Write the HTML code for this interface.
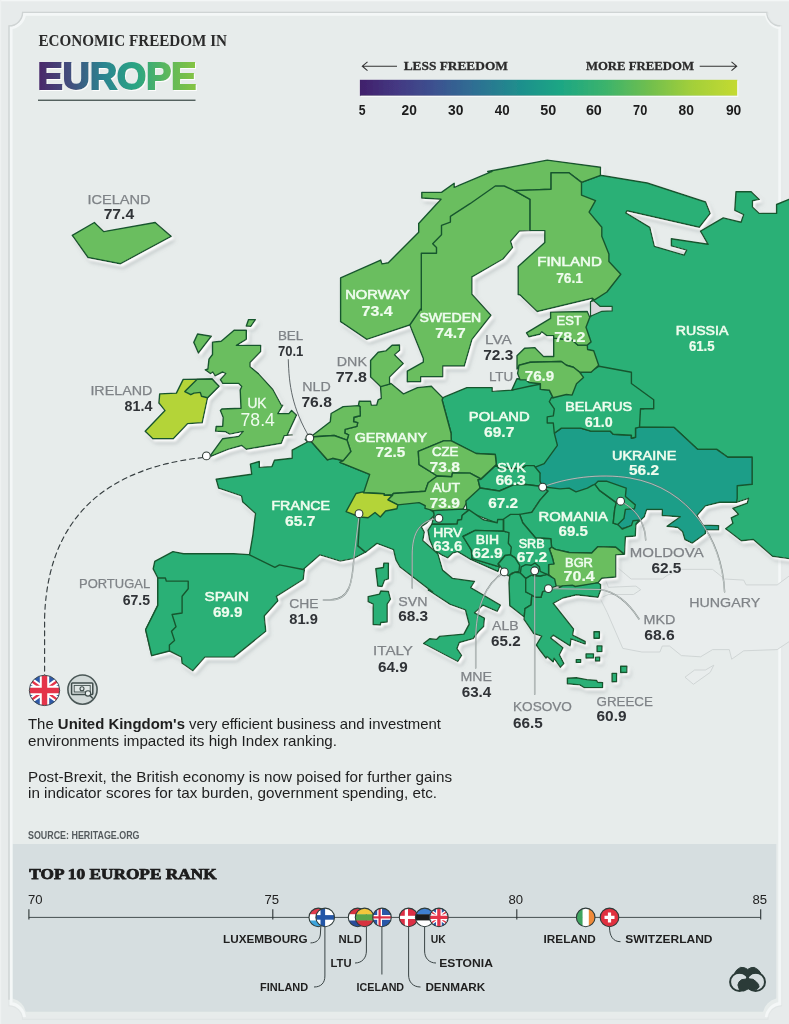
<!DOCTYPE html>
<html><head><meta charset="utf-8"><title>Economic Freedom in Europe</title>
<style>
html,body{margin:0;padding:0;background:#e7ebeb;}
body{width:789px;height:1024px;overflow:hidden;position:relative;font-family:"Liberation Sans",sans-serif;}
svg{position:absolute;left:0;top:0;}
text{font-family:"Liberation Sans",sans-serif;}
.ser{font-family:"Liberation Serif",serif;font-weight:bold;}
.gn{font-size:13.6px;fill:#7f8387;stroke:#7f8387;stroke-width:0.25px;}
.dv{font-size:13.8px;fill:#303337;font-weight:bold;}
.wn{font-size:13.6px;fill:#effcee;stroke:#effcee;stroke-width:0.6px;}
.wv{font-size:13.8px;fill:#effcee;font-weight:bold;stroke:#effcee;stroke-width:0.2px;}
.ukn{font-size:13.8px;fill:#effcee;stroke:#effcee;stroke-width:0.35px;}
.ukv{font-size:18px;fill:#effcee;}
</style></head><body>
<svg width="789" height="1024" viewBox="0 0 789 1024">
<defs>
<filter id="emb" x="-5%" y="-5%" width="110%" height="110%">
<feOffset in="SourceAlpha" dx="1.6" dy="1.8" result="o"/>
<feGaussianBlur in="o" stdDeviation="1.0" result="ob"/>
<feFlood flood-color="#ffffff" flood-opacity="1"/><feComposite in2="ob" operator="in" result="w"/>
<feOffset in="SourceAlpha" dx="3.2" dy="3.6" result="o2"/>
<feGaussianBlur in="o2" stdDeviation="2.2" result="o2b"/>
<feFlood flood-color="#7f8a8d" flood-opacity="0.42"/><feComposite in2="o2b" operator="in" result="s"/>
<feMerge><feMergeNode in="s"/><feMergeNode in="w"/><feMergeNode in="SourceGraphic"/></feMerge>
</filter>
<clipPath id="fcU"><circle cx="44.5" cy="690.4" r="15.2"/></clipPath>
</defs>

<g opacity="0.999">
<defs><filter id="fb" x="-2%" y="-2%" width="104%" height="104%"><feGaussianBlur stdDeviation="0.5"/></filter></defs>
<rect x="0" y="0" width="789" height="1024" fill="#e7ebeb"/>
<rect x="0" y="0" width="789" height="1.3" fill="#f3f6f6"/><rect x="0" y="0" width="1.2" height="1024" fill="#eef1f1"/>
<path d="M22.6 12.3 L766.3 12.3 A13.6 13.6 0 0 0 779.9 25.9 L779.9 1001.8 A13.6 13.6 0 0 0 766.3 1015.4 L22.6 1015.4 A13.6 13.6 0 0 0 9.0 1001.8 L9.0 25.9 A13.6 13.6 0 0 0 22.6 12.3Z" fill="#e7eceb"/>
<path d="M12.6 844 L776.3 844 L776.3 998.58 A17.2 17.2 0 0 0 763.08 1011.8 L25.82 1011.8 A17.2 17.2 0 0 0 12.6 998.58Z" fill="#d6dee0"/>
<path d="M24.38 1017.1 A15.5 15.5 0 0 0 10.9 1003.62 L10.9 27.68 A15.5 15.5 0 0 0 24.38 14.200000000000001 L766.42 14.200000000000001 A15.5 15.5 0 0 0 779.9 27.68 L779.9 1003.62 A15.5 15.5 0 0 0 766.42 1017.1" fill="none" stroke="#f6f9f9" stroke-width="3.2" opacity="0.9" filter="url(#fb)"/>
<path d="M22.6 12.3 L767.9 12.3 A13.6 13.6 0 0 0 781.5 25.9 L781.5 1005.8 A13.6 13.6 0 0 0 767.9 1019.4 L22.6 1019.4 A13.6 13.6 0 0 0 9.0 1005.8 L9.0 25.9 A13.6 13.6 0 0 0 22.6 12.3Z" fill="none" stroke="#cfd4d4" stroke-width="1.3" opacity="0.25" filter="url(#fb)"/>
<path d="M9.0 999.8 L9.0 25.9 A13.6 13.6 0 0 0 22.6 12.3 L766.8 12.3 A13.6 13.6 0 0 0 780.4 25.9" fill="none" stroke="#cfd4d4" stroke-width="1.35" filter="url(#fb)"/>
<defs>
<linearGradient id="eu" x1="0" y1="0" x2="1" y2="0">
<stop offset="0" stop-color="#4a2769"/><stop offset="0.22" stop-color="#41527f"/><stop offset="0.42" stop-color="#2a8590"/>
<stop offset="0.62" stop-color="#2aa583"/><stop offset="0.82" stop-color="#5db85c"/><stop offset="1" stop-color="#86c441"/>
</linearGradient>
<linearGradient id="bar" x1="0" y1="0" x2="1" y2="0">
<stop offset="0" stop-color="#41206b"/><stop offset="0.1" stop-color="#443983"/><stop offset="0.2" stop-color="#3c5290"/><stop offset="0.3" stop-color="#2f6e93"/>
<stop offset="0.42" stop-color="#1f8e8d"/><stop offset="0.53" stop-color="#1da684"/><stop offset="0.65" stop-color="#3bb36c"/>
<stop offset="0.77" stop-color="#72bf4d"/><stop offset="0.88" stop-color="#a3cf3a"/><stop offset="1" stop-color="#c4da31"/>
</linearGradient>
<filter id="ts" x="-5%" y="-20%" width="110%" height="140%">
<feOffset in="SourceAlpha" dx="1" dy="1.2" result="o"/><feGaussianBlur in="o" stdDeviation="0.7" result="ob"/>
<feFlood flood-color="#ffffff" flood-opacity="0.9"/><feComposite in2="ob" operator="in" result="w"/>
<feMerge><feMergeNode in="w"/><feMergeNode in="SourceGraphic"/></feMerge></filter>
</defs>
<text class="ser" x="38.5" y="45.7" font-size="16.6" fill="#2b2b2b" textLength="188.5" lengthAdjust="spacingAndGlyphs">ECONOMIC FREEDOM IN</text>
<text x="37.8" y="89.2" font-size="36.8" font-weight="bold" fill="url(#eu)" stroke="url(#eu)" stroke-width="1.9" stroke-linejoin="miter" filter="url(#ts)" textLength="158.4" lengthAdjust="spacingAndGlyphs">EUROPE</text>
<rect x="38" y="99.6" width="157.5" height="1.3" fill="#44534f"/>
<rect x="359.9" y="79.8" width="377.4" height="16" fill="url(#bar)" filter="url(#ts)"/>
<text class="ser" x="403.7" y="70.3" font-size="13.3" fill="#2b2b2b" stroke="#2b2b2b" stroke-width="0.3" textLength="104.2" lengthAdjust="spacingAndGlyphs">LESS FREEDOM</text>
<text class="ser" x="585.9" y="70.3" font-size="13.3" fill="#2b2b2b" stroke="#2b2b2b" stroke-width="0.3" textLength="108.1" lengthAdjust="spacingAndGlyphs">MORE FREEDOM</text>
<path d="M397 66.2 L362.5 66.2 M367.5 61.8 L362.3 66.2 L367.5 70.6" fill="none" stroke="#333" stroke-width="1.1"/>
<path d="M699.7 66.2 L736.5 66.2 M731.5 61.8 L736.7 66.2 L731.5 70.6" fill="none" stroke="#333" stroke-width="1.1"/>
<text x="358.8" y="115.2" font-size="14.3" font-weight="bold" fill="#1c1c1c" textLength="6.8" lengthAdjust="spacingAndGlyphs">5</text>
<text x="401.5" y="115.2" font-size="14.3" font-weight="bold" fill="#1c1c1c" textLength="15.3" lengthAdjust="spacingAndGlyphs">20</text>
<text x="448.1" y="115.2" font-size="14.3" font-weight="bold" fill="#1c1c1c" textLength="15.4" lengthAdjust="spacingAndGlyphs">30</text>
<text x="494.8" y="115.2" font-size="14.3" font-weight="bold" fill="#1c1c1c" textLength="14.8" lengthAdjust="spacingAndGlyphs">40</text>
<text x="540.3" y="115.2" font-size="14.3" font-weight="bold" fill="#1c1c1c" textLength="16.0" lengthAdjust="spacingAndGlyphs">50</text>
<text x="585.9" y="115.2" font-size="14.3" font-weight="bold" fill="#1c1c1c" textLength="15.9" lengthAdjust="spacingAndGlyphs">60</text>
<text x="633.1" y="115.2" font-size="14.3" font-weight="bold" fill="#1c1c1c" textLength="14.2" lengthAdjust="spacingAndGlyphs">70</text>
<text x="678.6" y="115.2" font-size="14.3" font-weight="bold" fill="#1c1c1c" textLength="15.4" lengthAdjust="spacingAndGlyphs">80</text>
<text x="725.9" y="115.2" font-size="14.3" font-weight="bold" fill="#1c1c1c" textLength="15.4" lengthAdjust="spacingAndGlyphs">90</text>
<g id="gray" fill="#e9eded" stroke="#cdd2d3" stroke-width="0.9" stroke-linejoin="round">
<path d="M616.8 567 L631.1 579 L662.3 579 L667.1 575.4 L681.4 569.4 L712.6 569.4 L724.6 579 L743.7 580.1 L746.1 584.9 L777.2 584.9 L791.6 574.2 L791.6 640 L777.2 649.6 L743.7 650.8 L731.7 659.2 L729.3 649.6 L712.6 649.6 L700.6 656.8 L681.4 655.6 L669.5 646 L662.3 646 L659.9 652 L641.9 652 L622.8 648.4 L607.2 612.5 L600 598.1 L608.4 594.5 L633.5 594.5 L640.7 589.7 L635.9 586.1 L608.4 587.3 L604.8 577.8 L618 576.6Z"/>
<path d="M685 677.2 L694.6 670 L705.4 670 L713.8 665.2 L710.2 672.4 L693.4 684.3Z"/>
</g>
<g id="map" filter="url(#emb)" stroke-linejoin="round">
<path d="M581.5 182.4 L600.5 175.3 L647.3 183 L705.6 202 L710.2 213.4 L699.3 227.3 L627 210.8 L625.8 212.9 L649.8 227.3 L654.4 246.3 L684.1 255.2 L686.6 250.1 L671.4 245.8 L671.4 238.7 L708.1 244.3 L700.5 231.1 L723.3 217.9 L741.1 222.2 L743.6 214.6 L734.8 210.3 L736 191.8 L751.2 191.8 L759.3 199.4 L752.5 200.7 L752.5 207 L759.3 213.4 L776.6 213.4 L776.6 204.5 L789 199.4 L795 199 L795 560 L789 558.6 L772.5 556.2 L753.3 539.5 L741.3 540.7 L725.7 528.7 L732.9 523.2 L731.3 517.9 L738.4 514.3 L732.9 508.3 L747.3 503.1 L748.5 498.3 L736.5 502.3 L729.3 499.9 L729.3 482.6 L752.1 484.2 L752.1 457.3 L727.8 457.3 L716.7 449.4 L697.8 449.4 L674.1 427.4 L639.4 427.4 L631.4 427.1 L631.4 408.8 L643.6 408.8 L643.6 399.7 L623.3 383.5 L623.3 372.3 L590.9 368.3 L591.1 350.8 L586 349.5 L584.8 345.1 L586 341.9 L582.2 327.3 L589.2 317.2 L591.1 315.9 L591.1 302.6 L593.7 297.8 L591.7 300.1 L601.8 292 L614.5 274.2 L604.3 261.5 L604.3 253.9 L596.7 236.2 L596.7 227.3 L584.1 212.1 L589.1 200.7 L576.5 195.1Z" fill="#2bb076" stroke="#17572f" stroke-width="1.4"/>
<path d="M340.6 310.1 L340.6 277.9 L380.7 260.1 L382 263.9 L388.3 262.7 L418.7 232.2 L418.7 223.4 L441 199.3 L421.8 198 L421.8 192.4 L441.5 192.4 L454.2 183.3 L454.2 187.4 L492.2 171.4 L487.7 171.5 L547.3 160.1 L600.5 167.2 L600.5 175.3 L581.5 182.4 L568.9 172.8 L551.1 172.8 L551.1 189.3 L514.4 190.6 L507.4 195.5 L472 236 L451.7 310.1 L436.5 309 L409.8 325 L366.8 339.4 L340.6 321.7Z" fill="#6bbe5e" stroke="#17572f" stroke-width="1.4"/>
<path d="M514.4 190.6 L504.2 186 L495.3 186 L470 203.7 L450.4 216.3 L450.4 222.1 L441.5 225.4 L441.5 234.8 L432.7 243.7 L436.5 247.5 L436.5 253.3 L421.3 253.3 L421.3 310.1 L420.7 309 L409.8 325 L423.3 358.4 L423.3 362.2 L407.3 371.1 L407.3 381.8 L420.7 381.8 L420.7 376.7 L442.8 376.7 L442.8 366 L464.3 366 L472 339.4 L491 315.3 L472 294.3 L472 276.6 L472.5 276.7 L503 259 L512.6 247.6 L510.6 241.3 L519.4 231.1 L530.1 230.6 L530.1 199.4Z" fill="#6bbe5e" stroke="#17572f" stroke-width="1.4"/>
<path d="M514.4 190.6 L551.1 189.3 L551.1 172.8 L568.9 172.8 L581.5 182.4 L581.5 195.1 L595.5 200.7 L589.1 212.1 L601.8 227.3 L601.8 236.2 L608.9 253.9 L608.9 261.5 L620.8 274.2 L606.9 292 L594.2 300.1 L592.4 298.2 L537.2 311.5 L520.1 295 L518.2 294.5 L518.2 266.6 L544.8 242.5 L544.8 230.6 L530.1 230.6 L530.1 199.4Z" fill="#6bbe5e" stroke="#17572f" stroke-width="1.4"/>
<path d="M538.1 439.2 L554.3 433.2 L561.4 428.1 L580.7 428.1 L590.9 431.1 L610.1 431.1 L613.2 434.2 L631.4 435.2 L631.4 438.2 L635.5 437.2 L635.5 427.7 L639.5 427.1 L674.1 427.4 L697.8 449.4 L716.7 449.4 L727.8 457.3 L752.1 457.3 L752.1 484.2 L737.2 485.7 L737.2 498.4 L736.5 502.3 L719.8 502.3 L705.4 505.9 L697 515.5 L703 525.1 L718.6 525.6 L718.6 529.9 L705.4 529.9 L705.4 533.5 L692.2 543.1 L685 539.5 L682.6 531.8 L677.8 527.5 L667.1 526.3 L680.2 516.7 L662.3 515.5 L662.3 509.5 L646.7 509.5 L644.3 516.7 L635.9 524.6 L619.2 529.4 L612 521.5 L603.1 504.7 L587.3 492 L558.9 498.4 L530.5 495.2 L527.4 463.6Z" fill="#1c9e88" stroke="#17572f" stroke-width="1.4"/>
<path d="M599 366.2 L631.4 372.3 L631.4 383.5 L653.7 399.7 L653.7 408.8 L640.5 408.8 L639.5 427.1 L635.5 428.1 L635.5 437.2 L631.4 438.2 L631.4 435.2 L613.2 434.2 L610.1 431.1 L590.9 431.1 L580.7 428.1 L561.4 428.1 L554.3 433.2 L542.2 435.2 L542.2 396.7 L551.3 393.6 L569.6 392.6 L570.6 388.5 L580.7 376.4 L580.7 371.9 L593.9 369.3Z" fill="#2bb076" stroke="#17572f" stroke-width="1.4"/>
<path d="M442.8 397.7 L466.9 387.6 L492.2 387.6 L492.2 391.4 L512.5 390.1 L511.8 390.1 L529.6 384.3 L529 382.5 L540.4 383.7 L540.4 389.4 L549.3 390.1 L553.1 397.7 L551.3 397.7 L549.3 401.7 L554.3 408.8 L553.3 415.9 L547.2 416.9 L547.2 423 L553.3 423 L554.3 433.2 L557.4 445.3 L544.2 463.6 L534.1 467.6 L540 473.1 L533.9 465.6 L525.8 465.6 L521.7 468.7 L498.4 467.7 L496.3 465 L495.3 454.5 L476.1 453.5 L451.3 440.9 L451 433 L442.1 400Z" fill="#2bb076" stroke="#17572f" stroke-width="1.4"/>
<path d="M511.8 390.1 L516.9 378.7 L529.6 379.2 L539.7 384.3 L529.6 386.3Z" fill="#2bb076" stroke="#17572f" stroke-width="1.4"/>
<path d="M553.7 338.1 L572.1 340 L577.8 345.1 L587.3 345.1 L587.6 349.5 L593.7 350.8 L598.7 365.3 L591.1 372.3 L579.7 372.3 L573.4 367.2 L566.4 365.3 L561.3 361.5 L530.3 362.2 L519.5 365.3 L517 369.1 L517 355.8 L524.6 348.2 L534.7 347.6 L543.6 356.5 L553.7 356.5Z" fill="#6bbe5e" stroke="#17572f" stroke-width="1.4"/>
<path d="M526.5 332.8 L550.6 318.4 L550.6 312.1 L587.3 311.5 L589.8 317.2 L586 327.3 L591.1 341.9 L587.3 345.1 L577.8 345.1 L572.1 340 L553.7 338.1 L553.7 335.6 L546.8 335.6 L541.7 331.8 L539.8 334.3 L529 336.8Z" fill="#6bbe5e" stroke="#17572f" stroke-width="1.4"/>
<path d="M518.9 365.3 L530.3 362.2 L561.3 361.5 L566.4 365.3 L573.4 367.2 L579.7 372.3 L583.5 377.4 L576.5 383.7 L572.1 395.1 L566.4 394.5 L553.1 397.7 L549.3 390.1 L540.4 389.4 L540.4 383.7 L529 382.5 L525.8 379.9 L520.1 379.9 L517.6 373.6Z" fill="#6bbe5e" stroke="#17572f" stroke-width="1.4"/>
<path d="M307.4 442 L292.2 450.1 L292.2 458.3 L274.5 460.3 L272 466.6 L259.3 467.4 L259.3 461.5 L250.4 464.1 L251.7 474.2 L216.2 479.3 L218.7 488.2 L241.5 495.8 L242.8 502.1 L255.5 513.5 L252.9 535.1 L249.1 557.1 L275.8 568.8 L279.6 567.2 L302.9 569.8 L320 554.8 L340.3 561.1 L353 558.6 L365.6 552.2 L358 545.9 L360.5 545.2 L361.3 517 L370.4 511.7 L373.5 490.4 L376.5 474.4 L369.7 474.4 L340 462.3 L343.2 460.6 L332.6 458.3 L327.3 459.8 L310.5 440.8 L305.2 439.3Z" fill="#2bb076" stroke="#17572f" stroke-width="1.4"/>
<path d="M173 551.6 L183.7 553.7 L233.8 553.7 L249 554.6 L274.9 567.4 L279.5 564.9 L304.4 569.8 L303.2 579.5 L276.4 596.3 L277.9 600.8 L264.3 616 L265.8 631.3 L233.8 657.1 L204.9 657.1 L192.8 670.8 L182.1 663.2 L181.5 657.1 L169.4 651 L151.7 655.6 L145.6 629.7 L157.8 605.4 L157.8 578 L153.2 568.9 L154.8 561.3Z" fill="#2bb076" stroke="#17572f" stroke-width="1.4"/>
<path d="M157.8 578 L165.4 578 L166.3 581.1 L188.2 581.1 L188.2 588.7 L182.1 596.3 L182.1 613 L172.1 614.5 L176 626.7 L171.5 631.3 L174.5 640.4 L169.4 644.9 L169.4 651 L151.7 655.6 L145.6 629.7 L157.8 605.4Z" fill="#2bb076" stroke="#17572f" stroke-width="1.4"/>
<path d="M390.4 383.8 L380.5 386.1 L381.3 398.3 L378.2 399.8 L376.7 405.1 L371.4 405.1 L370.6 401.3 L359.2 401.3 L358.4 405.6 L360 406.6 L360.3 415.7 L353.9 417.3 L353.6 421.8 L357.7 422.6 L356.9 426.4 L345.1 429.4 L344.8 433.2 L348.6 434.8 L347 440.1 L350.8 451.5 L343.2 460.6 L340 462.3 L369.7 474.4 L363.6 492.7 L384.1 493.8 L384.1 495.3 L392.5 495 L393.2 493.5 L425.2 491.2 L428.2 482.8 L437.3 476 L419.1 464.6 L418.3 451.4 L443.6 440.9 L451.3 440.9 L451 433 L442.1 400 L442.8 397.7 L431.4 386.3 L417.5 387.6 L403.5 393.9 L390.8 383.3Z" fill="#6bbe5e" stroke="#17572f" stroke-width="1.4"/>
<path d="M310.5 437 L330.3 421.8 L331.1 413.5 L343.2 406.6 L358.4 405.6 L360 406.6 L360.3 415.7 L353.9 417.3 L353.6 421.8 L357.7 422.6 L356.9 426.4 L345.1 429.4 L344.8 433.2 L348.6 434.8 L347 440.1 L334.1 435.5Z" fill="#6bbe5e" stroke="#17572f" stroke-width="1.4"/>
<path d="M310.5 437 L334.1 435.5 L347 440.1 L350.8 451.5 L343.2 460.6 L332.6 458.3 L327.3 459.8 L310.5 440.8Z" fill="#6bbe5e" stroke="#17572f" stroke-width="1.4"/>
<path d="M370.6 360.4 L378.2 352.2 L385.8 350.9 L392.1 345.2 L399.5 345 L399.7 350.3 L394.6 354.7 L403.3 363.6 L389.6 376.9 L389.6 384.1 L380.7 386.7 L370.6 376.9Z" fill="#6bbe5e" stroke="#17572f" stroke-width="1.4"/>
<path d="M359.8 517 L359.8 511.7 L397.8 502.6 L419.1 501.1 L425.2 505.6 L435.8 514 L425.9 523.7 L421.3 526.7 L424.3 532.1 L422.8 540.4 L438 554.1 L442.6 570.1 L452.5 578.4 L474.5 581.5 L470.7 587.6 L500.4 605.2 L497.3 611.3 L482.9 605.2 L474.5 612.8 L484.4 618.1 L483.7 626.5 L478.3 631.8 L473 638.7 L459.3 642.5 L457 648.6 L461.6 655.4 L457.8 661.5 L423.6 643.5 L429.7 638.7 L436.5 639.4 L439.5 636.4 L463.9 634.1 L469.2 624.2 L465.4 609.8 L450.2 604.4 L428.1 590 L432.7 592.1 L400 567 L396 559.8 L393.5 549.7 L377 543.4 L365.6 552.2 L358 545.9Z" fill="#2bb076" stroke="#17572f" stroke-width="1.4"/>
<path d="M368.2 596.6 L379.6 594.1 L380.8 591 L388.4 591.5 L390.5 599.1 L387.2 604.2 L387.2 622 L380.8 622.5 L380.3 625 L373.2 624.5 L373.2 604.2 L368.2 601.7Z" fill="#2bb076" stroke="#17572f" stroke-width="1.4"/>
<path d="M375.8 568.7 L383.4 567.5 L383.9 563.1 L388.4 563.1 L388.4 578.9 L384.6 580.1 L382.1 586.5 L377.8 586Z" fill="#2bb076" stroke="#17572f" stroke-width="1.4"/>
<path d="M418.3 451.4 L443.6 440.9 L451.3 440.9 L476.1 453.5 L495.3 454.5 L496.3 464.6 L481.1 478.8 L470 473.1 L452.5 472.9 L451.8 476.7 L437.3 476 L419.1 464.6Z" fill="#6bbe5e" stroke="#17572f" stroke-width="1.4"/>
<path d="M393.2 493.5 L425.2 491.2 L428.2 482.8 L437.3 476 L451.8 476.7 L452.5 472.9 L470 473.1 L481.1 479.2 L478.1 479.8 L480.1 488 L469 504.2 L468.3 500 L463 509.1 L433.4 510.6 L425 508.4 L425.2 505.6 L419.1 502.6 L397.8 504.9 L387.9 499.8 L392.5 495.3Z" fill="#6bbe5e" stroke="#17572f" stroke-width="1.4"/>
<path d="M481.1 479.2 L496.3 465 L498.4 467.7 L521.7 468.7 L525.8 465.6 L533.9 465.6 L540 473.1 L540 480.9 L542 486.5 L525.8 484.5 L513.6 484.9 L499.4 491 L480.1 488 L478.1 479.8Z" fill="#2bb076" stroke="#17572f" stroke-width="1.4"/>
<path d="M480.1 488 L499.4 491 L513.6 484.9 L525.8 484.5 L542 486.5 L548.1 491 L540 500.1 L531.8 512.3 L519.7 517.4 L503.4 523.4 L497.4 523.4 L466.9 511.3 L465.9 501.1Z" fill="#2bb076" stroke="#17572f" stroke-width="1.4"/>
<path d="M346.1 511.7 L356 493.5 L362.8 491.9 L363.6 492.7 L384.1 493.8 L384.1 495.3 L392.5 495 L387.9 499.8 L397.8 504.9 L397 508.7 L385.6 511 L380.3 517 L375 512.5 L368.1 517.8 L359.8 517Z" fill="#b4d437" stroke="#17572f" stroke-width="1.4"/>
<path d="M212.5 342.1 L221.2 341.2 L234.1 330.2 L246.3 330.2 L246.3 339.3 L236.4 345.4 L260.7 345.4 L260.7 351.5 L250.1 362.5 L250.1 366.7 L258.4 373.6 L272.9 389.5 L281.3 405 L282.8 405.2 L277.9 413.6 L288.9 413.6 L291.6 410.5 L296.5 415.1 L287.3 434.9 L292.2 434.9 L284.3 435.6 L281.3 443.2 L246.3 449.3 L241.7 445.5 L228 449.3 L211.3 456.2 L210.5 455.4 L222.7 438.7 L238.7 436.4 L243.2 431.4 L229.8 434.1 L225.7 431.8 L215.6 431.1 L216.2 426.5 L222.7 426.2 L223.2 417.4 L220.4 410.5 L221.9 409 L241 408.3 L240.2 390 L241.7 386.5 L238.7 383.4 L222.7 383.4 L220.4 379.6 L225.7 373.6 L222.7 372 L215.1 375.8 L212.8 372 L210.5 373.6 L205.2 369.8 L207.9 369 L209 359.1 L212.5 354.5Z" fill="#6bbe5e" stroke="#17572f" stroke-width="1.4"/>
<path d="M248.6 319.6 L255.4 319.6 L250.8 326.4 L246.3 326Z" fill="#6bbe5e" stroke="#17572f" stroke-width="1.4"/>
<path d="M197.6 334 L211.3 336.3 L198.4 353 L193.8 342.4Z" fill="#6bbe5e" stroke="#17572f" stroke-width="1.4"/>
<path d="M183.2 379.4 L212.1 379 L219 386.3 L207.6 397.7 L202.2 422.8 L187.8 423.6 L173.3 438.8 L152.8 438.8 L145.2 431.2 L165 410.6 L158.9 403 L159.7 393.9 L176.4 393.1Z" fill="#b4d437" stroke="#17572f" stroke-width="1.4"/>
<path d="M196.9 379.4 L212.1 379 L219 386.3 L207.6 397.7 L201.5 396.2 L200.3 392.4 L193.9 393.1 L190.8 394.7 L184.8 391.6Z" fill="#6bbe5e" stroke="#17572f" stroke-width="1.4"/>
<path d="M72.3 235.4 L94.4 222.5 L103.7 231.6 L155.2 222.5 L171.2 236.4 L120.2 263.8 L88 257.5Z" fill="#6bbe5e" stroke="#17572f" stroke-width="1.4"/>
<path d="M542.5 486.7 L560 488.9 L569.1 488.1 L576 491.9 L587.4 488.1 L592.7 485.1 L595 484.3 L599.5 490.4 L616.3 502.6 L614.8 508.7 L613.2 523.1 L617.8 524.6 L622.4 529.2 L631.5 525.4 L633 520.8 L639.1 520.1 L636 523.9 L635.3 536 L625.4 536.8 L624.6 554.2 L615.8 547.2 L598 546.6 L591.7 553 L569.1 552.5 L555.4 549.4 L551.6 547.1 L550.8 538.8 L535.6 538 L522.7 522.8 L519.7 514.4 L531.8 512.3 L540 500.1 L548.1 491 L542 486.5Z" fill="#2bb076" stroke="#17572f" stroke-width="1.4"/>
<path d="M595 484.3 L598 481.3 L607.1 481.3 L626.2 488.1 L625.4 496.5 L635.3 504.9 L634.5 508.7 L625.4 509.4 L623.9 518.6 L617.8 524.6 L613.2 523.1 L614.8 508.7 L616.3 502.6 L599.5 490.4Z" fill="#2bb076" stroke="#17572f" stroke-width="1.4"/>
<path d="M551.6 547.1 L555.4 549.4 L569.1 552.5 L591.7 553 L598 546.6 L615.8 547.2 L624 554.2 L615.8 554.9 L615.8 577 L601.8 578.3 L598 582.7 L594.2 584 L575.2 587.2 L572.7 585.9 L562.5 586.5 L555.4 585.9 L553.9 579.8 L553.9 579.1 L548.6 574.5 L548.6 564.6 L553.9 563.9 L552.4 557.8 L549.3 548.7Z" fill="#6bbe5e" stroke="#17572f" stroke-width="1.4"/>
<path d="M433.4 510.6 L463 509.1 L469.1 509.9 L462.3 515.2 L461.5 519.5 L457.7 520.2 L457.2 524 L441 524.3 L431.8 524.3 L434.1 515.2Z" fill="#2bb076" stroke="#17572f" stroke-width="1.4"/>
<path d="M469.1 509.9 L483.6 519.8 L497.2 522.8 L497.7 519.5 L503.3 519.5 L503.3 531.2 L475.2 530.4 L463 536.5 L471.4 550.2 L472.1 558.6 L499.5 566.9 L498 571.5 L470.6 559.3 L457.7 551.7 L452.4 553.2 L447.8 557.8 L441.7 554.8 L434.1 550.2 L429.6 539.5 L428 530.4 L431.8 524.3 L441 524.3 L457.2 524 L457.7 520.2 L461.5 519.5 L462.3 515.2Z" fill="#2bb076" stroke="#17572f" stroke-width="1.4"/>
<path d="M463 536.5 L475.2 530.4 L503.3 531.2 L508.7 532.7 L514 533.5 L513.2 544.1 L516.3 547.9 L515.5 554.8 L504.8 555.5 L498 563.9 L499.5 566.9 L472.1 558.6 L471.4 550.2Z" fill="#2bb076" stroke="#17572f" stroke-width="1.4"/>
<path d="M503.7 519 L510.5 514.4 L519.7 514.4 L522.7 522.8 L535.6 538 L550.8 538.8 L551.6 547.1 L549.3 548.7 L552.4 557.8 L553.9 563.9 L548.6 564.6 L548.6 575.3 L540.2 573 L535.6 572.2 L528 573.8 L517.4 573.8 L517.4 565.4 L515.1 557.8 L510.5 554.8 L511.3 547.1 L508.3 543.3 L509 532.7 L503.7 531.2Z" fill="#2bb076" stroke="#17572f" stroke-width="1.4"/>
<path d="M498.4 563.9 L505.2 555.5 L510.5 554.8 L515.1 557.8 L519.7 565.4 L518.9 571.5 L512.1 573 L508.3 576 L504 571.5Z" fill="#2bb076" stroke="#17572f" stroke-width="1.4"/>
<path d="M509.8 575.2 L515.1 572.2 L520.4 572.9 L525.7 578.3 L525.7 591.9 L531.8 595 L531.1 604.9 L525 608.7 L524.2 617 L509.8 605.6 L509 582.8Z" fill="#2bb076" stroke="#17572f" stroke-width="1.4"/>
<path d="M524.2 617 L525 608.7 L531.1 604.9 L531.8 595 L535.6 597.3 L541 597.3 L542.5 591.9 L548.6 588.1 L558.4 588.1 L562.5 585.9 L572.7 585.3 L575.2 586.5 L594.2 583.4 L598 582.7 L600.6 584.6 L600.6 590.3 L598 597.3 L576.5 594.8 L563 598 L553.2 603.3 L573.6 629 L572.7 635.2 L585.2 641.5 L585.2 644.1 L571 638.8 L570.1 645.9 L553.2 635.2 L550.6 637.9 L563 647.7 L559.4 654.8 L563.9 663.6 L560.3 667.2 L554.1 658.3 L553.2 661.9 L547 656.5 L546.1 658.3 L539.9 650.3 L536.4 645 L541.7 636.1 L533.7 633.5 L524 619.3Z" fill="#2bb076" stroke="#17572f" stroke-width="1.4"/>
<path d="M525.7 578.3 L531.1 575.2 L540.2 576 L547 574.4 L554.6 579 L556.2 586.2 L548.6 588.9 L542.5 591.9 L541 597.3 L535.6 597.3 L531.8 595 L525.7 591.9Z" fill="#2bb076" stroke="#17572f" stroke-width="1.4"/>
<path d="M520.4 572.9 L521.2 566.8 L525.7 564.6 L531.1 565.3 L534.9 563 L539.4 566.8 L540.2 571.4 L547 574.4 L540.2 576 L531.1 575.2 L525.7 578.3Z" fill="#2bb076" stroke="#17572f" stroke-width="1.4"/>
<path d="M567.4 678.2 L576.3 677.8 L586.9 679.6 L596.7 680.5 L597.6 682.3 L602.6 682.6 L602.6 687.6 L584.3 687.6 L579.8 684.9 L567.4 683.7Z" fill="#2bb076" stroke="#17572f" stroke-width="1.4"/>
<path d="M594 631.7 L599.4 631.7 L599.4 638.3 L594 638.3Z" fill="#2bb076" stroke="#17572f" stroke-width="1.4"/>
<path d="M597.1 645.9 L602 645.9 L602 651.6 L597.1 651.6Z" fill="#2bb076" stroke="#17572f" stroke-width="1.4"/>
<path d="M586.1 653.9 L593.5 653.9 L593.5 658 L586.1 658Z" fill="#2bb076" stroke="#17572f" stroke-width="1.4"/>
<path d="M595.5 657.1 L599.7 657.1 L599.7 661 L595.5 661Z" fill="#2bb076" stroke="#17572f" stroke-width="1.4"/>
<path d="M576.3 659.6 L580.7 659.6 L580.7 662.4 L576.3 662.4Z" fill="#2bb076" stroke="#17572f" stroke-width="1.4"/>
<path d="M620.7 666.3 L626.9 666.3 L626.9 672.5 L620.7 672.5Z" fill="#2bb076" stroke="#17572f" stroke-width="1.4"/>
<path d="M612.1 673.4 L616.6 673.4 L616.6 681.7 L612.1 681.7Z" fill="#2bb076" stroke="#17572f" stroke-width="1.4"/>
</g>
<path d="M590.5 301.6 L593.6 300.6 L600 306.3 L612.2 306.3 L612.2 310.9 L601.9 311.3 L590.5 316.2Z" fill="#d9d7db" stroke="#17572f" stroke-width="1.2" stroke-linejoin="round"/>
<g fill="none" stroke-linecap="round">
<path d="M359.3 513.8 L354 557 C352.5 582 350 600 330 600 L323.4 600" stroke="#66716f" stroke-opacity="0.8" stroke-width="1.45"/><path d="M359.3 513.8 L354 557 C352.5 582 350 600 330 600 L323.4 600" stroke="#f1f6f4" stroke-width="0.55"/>
<path d="M438.9 518.3 C420 520 412.2 532 412.2 555 L412.2 588" stroke="#66716f" stroke-opacity="0.8" stroke-width="1.45"/><path d="M438.9 518.3 C420 520 412.2 532 412.2 555 L412.2 588" stroke="#f1f6f4" stroke-width="0.55"/>
<path d="M504.3 571.9 C484 585 475.7 610 475.7 640 L475.7 668" stroke="#66716f" stroke-opacity="0.8" stroke-width="1.45"/><path d="M504.3 571.9 C484 585 475.7 610 475.7 640 L475.7 668" stroke="#f1f6f4" stroke-width="0.55"/>
<path d="M534.7 570.8 L534.7 694.3" stroke="#66716f" stroke-opacity="0.8" stroke-width="1.45"/><path d="M534.7 570.8 L534.7 694.3" stroke="#f1f6f4" stroke-width="0.55"/>
<path d="M548.4 588.6 L600 589.5 C618 592 630 605 639 619" stroke="#66716f" stroke-opacity="0.8" stroke-width="1.45"/><path d="M548.4 588.6 L600 589.5 C618 592 630 605 639 619" stroke="#f1f6f4" stroke-width="0.55"/>
<path d="M542.7 487.1 C565 478 600 473 630 478 C690 488 722 540 724.6 592" stroke="#66716f" stroke-opacity="0.8" stroke-width="1.45"/><path d="M542.7 487.1 C565 478 600 473 630 478 C690 488 722 540 724.6 592" stroke="#f1f6f4" stroke-width="0.55"/>
<path d="M620.6 501.2 C637 510 645 522 645.7 540" stroke="#66716f" stroke-opacity="0.8" stroke-width="1.45"/><path d="M620.6 501.2 C637 510 645 522 645.7 540" stroke="#f1f6f4" stroke-width="0.55"/>
<path d="M288.3 359.6 C289 385 292 408 309.8 438" stroke="#50585b" stroke-width="0.9"/>
<path d="M203 457.5 C135 465 48 495 44.6 618 L44.6 675" stroke="#363e40" stroke-width="1.15" stroke-dasharray="5 3.8"/>
</g>
<circle cx="309.8" cy="438" r="3.9" fill="#ffffff" stroke="#2c3a33" stroke-width="1.1"/>
<circle cx="206.4" cy="455.9" r="3.9" fill="#ffffff" stroke="#2c3a33" stroke-width="1.1"/>
<circle cx="359" cy="513.7" r="3.9" fill="#ffffff" stroke="#2c3a33" stroke-width="1.1"/>
<circle cx="438.9" cy="518.3" r="3.9" fill="#ffffff" stroke="#2c3a33" stroke-width="1.1"/>
<circle cx="542.7" cy="487.1" r="3.9" fill="#ffffff" stroke="#2c3a33" stroke-width="1.1"/>
<circle cx="620.6" cy="501.2" r="3.9" fill="#ffffff" stroke="#2c3a33" stroke-width="1.1"/>
<circle cx="504.3" cy="571.9" r="3.9" fill="#ffffff" stroke="#2c3a33" stroke-width="1.1"/>
<circle cx="534.7" cy="570.8" r="3.9" fill="#ffffff" stroke="#2c3a33" stroke-width="1.1"/>
<circle cx="548.4" cy="588.6" r="3.9" fill="#ffffff" stroke="#2c3a33" stroke-width="1.1"/>
<text class="gn" x="87.4" y="203.5" textLength="63.1" lengthAdjust="spacingAndGlyphs">ICELAND</text>
<text class="dv" x="103.7" y="219.4" textLength="30.4" lengthAdjust="spacingAndGlyphs">77.4</text>
<text class="gn" x="277.9" y="339.6" textLength="25.4" lengthAdjust="spacingAndGlyphs">BEL</text>
<text class="dv" x="277.9" y="356.3" textLength="25.4" lengthAdjust="spacingAndGlyphs">70.1</text>
<text class="gn" x="302.2" y="390.5" textLength="28.5" lengthAdjust="spacingAndGlyphs">NLD</text>
<text class="dv" x="301.4" y="406.5" textLength="30.5" lengthAdjust="spacingAndGlyphs">76.8</text>
<text class="gn" x="336.8" y="366.4" textLength="30.1" lengthAdjust="spacingAndGlyphs">DNK</text>
<text class="dv" x="335.7" y="381.6" textLength="31.2" lengthAdjust="spacingAndGlyphs">77.8</text>
<text class="gn" x="90.4" y="395.1" textLength="62.0" lengthAdjust="spacingAndGlyphs">IRELAND</text>
<text class="dv" x="124.6" y="411.4" textLength="27.8" lengthAdjust="spacingAndGlyphs">81.4</text>
<text class="gn" x="485.1" y="344" textLength="26.6" lengthAdjust="spacingAndGlyphs">LVA</text>
<text class="dv" x="483.2" y="359.9" textLength="30.1" lengthAdjust="spacingAndGlyphs">72.3</text>
<text class="gn" x="488.9" y="380.5" textLength="24.4" lengthAdjust="spacingAndGlyphs">LTU</text>
<text class="gn" x="79" y="588.1" textLength="71.1" lengthAdjust="spacingAndGlyphs">PORTUGAL</text>
<text class="dv" x="122.7" y="604.5" textLength="27.4" lengthAdjust="spacingAndGlyphs">67.5</text>
<text class="gn" x="289.3" y="608.3" textLength="29.3" lengthAdjust="spacingAndGlyphs">CHE</text>
<text class="dv" x="289.3" y="624.3" textLength="28.5" lengthAdjust="spacingAndGlyphs">81.9</text>
<text class="gn" x="398.2" y="605.7" textLength="29.3" lengthAdjust="spacingAndGlyphs">SVN</text>
<text class="dv" x="398.2" y="621.3" textLength="30.0" lengthAdjust="spacingAndGlyphs">68.3</text>
<text class="gn" x="373.1" y="655.2" textLength="39.9" lengthAdjust="spacingAndGlyphs">ITALY</text>
<text class="dv" x="378" y="671.5" textLength="29.7" lengthAdjust="spacingAndGlyphs">64.9</text>
<text class="gn" x="492.1" y="629.7" textLength="26.6" lengthAdjust="spacingAndGlyphs">ALB</text>
<text class="dv" x="491" y="645.7" textLength="29.6" lengthAdjust="spacingAndGlyphs">65.2</text>
<text class="gn" x="460.5" y="681" textLength="31.6" lengthAdjust="spacingAndGlyphs">MNE</text>
<text class="dv" x="461.7" y="697.4" textLength="29.6" lengthAdjust="spacingAndGlyphs">63.4</text>
<text class="gn" x="513" y="711.4" textLength="58.9" lengthAdjust="spacingAndGlyphs">KOSOVO</text>
<text class="dv" x="513" y="727.8" textLength="29.7" lengthAdjust="spacingAndGlyphs">66.5</text>
<text class="gn" x="596.5" y="705.6" textLength="56.4" lengthAdjust="spacingAndGlyphs">GREECE</text>
<text class="dv" x="596.5" y="721.2" textLength="30.0" lengthAdjust="spacingAndGlyphs">60.9</text>
<text class="gn" x="643.6" y="624.2" textLength="31.9" lengthAdjust="spacingAndGlyphs">MKD</text>
<text class="dv" x="644.2" y="640.1" textLength="30.5" lengthAdjust="spacingAndGlyphs">68.6</text>
<text class="gn" x="629.7" y="557.4" textLength="74.0" lengthAdjust="spacingAndGlyphs">MOLDOVA</text>
<text class="dv" x="651.4" y="573.4" textLength="29.9" lengthAdjust="spacingAndGlyphs">62.5</text>
<text class="gn" x="689.2" y="607.3" textLength="71.1" lengthAdjust="spacingAndGlyphs">HUNGARY</text>
<text class="wn" x="345.2" y="299.1" textLength="64.6" lengthAdjust="spacingAndGlyphs">NORWAY</text>
<text class="wv" x="361.6" y="315.8" textLength="31.1" lengthAdjust="spacingAndGlyphs">73.4</text>
<text class="wn" x="419.4" y="321.5" textLength="61.9" lengthAdjust="spacingAndGlyphs">SWEDEN</text>
<text class="wv" x="435.3" y="337.9" textLength="30.4" lengthAdjust="spacingAndGlyphs">74.7</text>
<text class="wn" x="537.2" y="266.4" textLength="64.7" lengthAdjust="spacingAndGlyphs">FINLAND</text>
<text class="wv" x="556.2" y="282.7" textLength="26.7" lengthAdjust="spacingAndGlyphs">76.1</text>
<text class="wn" x="556.6" y="325.3" textLength="25.1" lengthAdjust="spacingAndGlyphs">EST</text>
<text class="wv" x="554.3" y="341.7" textLength="31.2" lengthAdjust="spacingAndGlyphs">78.2</text>
<text class="wv" x="524.7" y="380.8" textLength="29.6" lengthAdjust="spacingAndGlyphs">76.9</text>
<text class="wn" x="468.8" y="420.8" textLength="60.8" lengthAdjust="spacingAndGlyphs">POLAND</text>
<text class="wv" x="484" y="436.7" textLength="30.4" lengthAdjust="spacingAndGlyphs">69.7</text>
<text class="wn" x="565.2" y="411.1" textLength="66.9" lengthAdjust="spacingAndGlyphs">BELARUS</text>
<text class="wv" x="584.8" y="426.9" textLength="27.8" lengthAdjust="spacingAndGlyphs">61.0</text>
<text class="wn" x="354.7" y="441.7" textLength="72.3" lengthAdjust="spacingAndGlyphs">GERMANY</text>
<text class="wv" x="375.6" y="457.3" textLength="29.7" lengthAdjust="spacingAndGlyphs">72.5</text>
<text class="wn" x="431.9" y="455.7" textLength="26.6" lengthAdjust="spacingAndGlyphs">CZE</text>
<text class="wv" x="429.6" y="471.7" textLength="30.4" lengthAdjust="spacingAndGlyphs">73.8</text>
<text class="wn" x="431.9" y="492.2" textLength="28.1" lengthAdjust="spacingAndGlyphs">AUT</text>
<text class="wv" x="429.6" y="508.2" textLength="30.4" lengthAdjust="spacingAndGlyphs">73.9</text>
<text class="wn" x="497.3" y="472.1" textLength="28.5" lengthAdjust="spacingAndGlyphs">SVK</text>
<text class="wv" x="495.4" y="485.4" textLength="30.4" lengthAdjust="spacingAndGlyphs">66.3</text>
<text class="wv" x="488.3" y="507.8" textLength="29.7" lengthAdjust="spacingAndGlyphs">67.2</text>
<text class="wn" x="538.5" y="520.6" textLength="69.5" lengthAdjust="spacingAndGlyphs">ROMANIA</text>
<text class="wv" x="558.6" y="535.8" textLength="29.3" lengthAdjust="spacingAndGlyphs">69.5</text>
<text class="wn" x="433.2" y="536.5" textLength="29.2" lengthAdjust="spacingAndGlyphs">HRV</text>
<text class="wv" x="433.2" y="551" textLength="29.2" lengthAdjust="spacingAndGlyphs">63.6</text>
<text class="wn" x="475.7" y="544.1" textLength="23.3" lengthAdjust="spacingAndGlyphs">BIH</text>
<text class="wv" x="472.3" y="557.5" textLength="30.4" lengthAdjust="spacingAndGlyphs">62.9</text>
<text class="wn" x="518.7" y="548" textLength="25.9" lengthAdjust="spacingAndGlyphs">SRB</text>
<text class="wv" x="516.8" y="562" textLength="30.4" lengthAdjust="spacingAndGlyphs">67.2</text>
<text class="wn" x="565.1" y="567" textLength="27.8" lengthAdjust="spacingAndGlyphs">BGR</text>
<text class="wv" x="563.6" y="581" textLength="31.2" lengthAdjust="spacingAndGlyphs">70.4</text>
<text class="wn" x="612" y="460.3" textLength="64.3" lengthAdjust="spacingAndGlyphs">UKRAINE</text>
<text class="wv" x="629" y="475.1" textLength="30.0" lengthAdjust="spacingAndGlyphs">56.2</text>
<text class="wn" x="675.7" y="334.7" textLength="52.7" lengthAdjust="spacingAndGlyphs">RUSSIA</text>
<text class="wv" x="689" y="350.5" textLength="25.5" lengthAdjust="spacingAndGlyphs">61.5</text>
<text class="wn" x="271.4" y="510.2" textLength="58.6" lengthAdjust="spacingAndGlyphs">FRANCE</text>
<text class="wv" x="285.1" y="526.2" textLength="30.4" lengthAdjust="spacingAndGlyphs">65.7</text>
<text class="wn" x="204.5" y="600.7" textLength="44.5" lengthAdjust="spacingAndGlyphs">SPAIN</text>
<text class="wv" x="212.9" y="617" textLength="29.6" lengthAdjust="spacingAndGlyphs">69.9</text>
<text class="ukn" x="247.5" y="408.4" textLength="19.0" lengthAdjust="spacingAndGlyphs">UK</text>
<text class="ukv" x="240.6" y="425.5" textLength="34.2" lengthAdjust="spacingAndGlyphs">78.4</text>
<g clip-path="url(#fcU)"><rect x="28.3" y="674.1999999999999" width="32.4" height="32.4" fill="#2f5aa8"/><path d="M27.3 678.016 L61.7 702.784 M27.3 702.784 L61.7 678.016" stroke="#fff" stroke-width="6.38"/><path d="M27.3 678.016 L61.7 702.784 M27.3 702.784 L61.7 678.016" stroke="#e4344a" stroke-width="2.28"/><path d="M44.5 673.1999999999999 L44.5 707.6 M27.3 690.4 L61.7 690.4" stroke="#fff" stroke-width="9.42"/><path d="M44.5 673.1999999999999 L44.5 707.6 M27.3 690.4 L61.7 690.4" stroke="#e4344a" stroke-width="5.47"/></g>
<circle cx="44.5" cy="690.4" r="15.2" fill="none" stroke="#3b4647" stroke-width="0.9"/>
<circle cx="82.5" cy="689.6" r="14.6" fill="#d2dad9" stroke="#4b5857" stroke-width="1.6"/>
<rect x="71.6" y="683" width="21.2" height="11.4" rx="0.8" fill="#dfe6e5" stroke="#3f4c4b" stroke-width="1.5"/>
<rect x="74.2" y="685.4" width="16" height="6.6" fill="none" stroke="#3f4c4b" stroke-width="0.9"/>
<circle cx="82" cy="688.7" r="2" fill="#dfe6e5" stroke="#3f4c4b" stroke-width="1.1"/>
<circle cx="88" cy="693.4" r="2.7" fill="#e9efee" stroke="#3f4c4b" stroke-width="1.1"/><path d="M90 695.5 L92.4 698" stroke="#3f4c4b" stroke-width="1.4" stroke-linecap="round"/>
<text x="28" y="729.3" font-size="14.6" fill="#1e1e1e" textLength="413" lengthAdjust="spacingAndGlyphs">The <tspan font-weight="bold">United Kingdom's</tspan> very efficient business and investment</text>
<text x="28" y="745.5" font-size="14.6" fill="#1e1e1e" textLength="309" lengthAdjust="spacingAndGlyphs">environments impacted its high Index ranking.</text>
<text x="28" y="781.8" font-size="14.6" fill="#1e1e1e" textLength="424" lengthAdjust="spacingAndGlyphs">Post-Brexit, the British economy is now poised for further gains</text>
<text x="28" y="798" font-size="14.6" fill="#1e1e1e" textLength="409" lengthAdjust="spacingAndGlyphs">in indicator scores for tax burden, government spending, etc.</text>
<text x="28" y="838.5" font-size="10.8" font-weight="bold" fill="#555b5e" textLength="111.5" lengthAdjust="spacingAndGlyphs">SOURCE: HERITAGE.ORG</text>
<text class="ser" x="29.3" y="879.2" font-size="14.6" fill="#1d1d1d" stroke="#1d1d1d" stroke-width="0.75" textLength="187.3" lengthAdjust="spacingAndGlyphs">TOP 10 EUROPE RANK</text>
<path d="M28.9 917.4 L760.7 917.4" stroke="#454f50" stroke-width="1"/>
<path d="M28.9 909.2 L28.9 919.6" stroke="#2b3334" stroke-width="1.1"/>
<path d="M272.8 909.2 L272.8 919.6" stroke="#2b3334" stroke-width="1.1"/>
<path d="M516.8 909.2 L516.8 919.6" stroke="#2b3334" stroke-width="1.1"/>
<path d="M760.7 909.2 L760.7 919.6" stroke="#2b3334" stroke-width="1.1"/>
<text x="27.9" y="903.6" font-size="13.4" fill="#222" text-anchor="start" textLength="14.6" lengthAdjust="spacingAndGlyphs">70</text>
<text x="271.8" y="903.6" font-size="13.4" fill="#222" text-anchor="middle" textLength="14.6" lengthAdjust="spacingAndGlyphs">75</text>
<text x="515.8" y="903.6" font-size="13.4" fill="#222" text-anchor="middle" textLength="14.6" lengthAdjust="spacingAndGlyphs">80</text>
<text x="759.7" y="903.6" font-size="13.4" fill="#222" text-anchor="middle" textLength="14.6" lengthAdjust="spacingAndGlyphs">85</text>
<path d="M320.8 926.5 L320.4 934 C320 940 316 942.9 310.5 942.9" fill="none" stroke="#3a4445" stroke-width="1"/>
<path d="M324.9 927 L324.9 976 C324.9 983 321 987 314 987" fill="none" stroke="#3a4445" stroke-width="1"/>
<path d="M366.4 927 L366.4 951 C366.4 958 362 963 355 963" fill="none" stroke="#3a4445" stroke-width="1"/>
<path d="M381.9 927 L381.9 974.5" fill="none" stroke="#3a4445" stroke-width="1"/>
<path d="M408.6 927 L408.6 975 C408.6 982 413 987 420.5 987" fill="none" stroke="#3a4445" stroke-width="1"/>
<path d="M424.6 927 L424.6 951 C424.6 958 429 963 436 963" fill="none" stroke="#3a4445" stroke-width="1"/>
<path d="M609.5 927 C609.5 936 613 941.7 620.5 941.7" fill="none" stroke="#3a4445" stroke-width="1"/>
<defs><clipPath id="fc0"><circle cx="318.3" cy="917.4" r="9.3"/></clipPath><clipPath id="fc1"><circle cx="325.2" cy="917.4" r="9.3"/></clipPath><clipPath id="fc2"><circle cx="357.6" cy="917.4" r="9.3"/></clipPath><clipPath id="fc3"><circle cx="364.6" cy="917.4" r="9.3"/></clipPath><clipPath id="fc4"><circle cx="382.0" cy="917.4" r="9.3"/></clipPath><clipPath id="fc5"><circle cx="408.6" cy="917.4" r="9.3"/></clipPath><clipPath id="fc6"><circle cx="424.7" cy="917.4" r="9.3"/></clipPath><clipPath id="fc7"><circle cx="438.9" cy="917.4" r="9.3"/></clipPath><clipPath id="fc8"><circle cx="585.7" cy="917.4" r="9.3"/></clipPath><clipPath id="fc9"><circle cx="609.5" cy="917.4" r="9.3"/></clipPath></defs>
<g clip-path="url(#fc0)"><rect x="308.0" y="908.10" width="20.6" height="6.50" fill="#e03a4b"/><rect x="308.0" y="914.30" width="20.6" height="6.50" fill="#ffffff"/><rect x="308.0" y="920.50" width="20.6" height="6.50" fill="#3ea4dc"/></g>
<circle cx="318.3" cy="917.4" r="9.3" fill="none" stroke="#2e3b3a" stroke-width="1.1"/>
<g clip-path="url(#fc1)"><rect x="314.9" y="907.1" width="20.6" height="20.6" fill="#ffffff"/><rect x="320.50" y="907.1" width="4.6" height="20.6" fill="#2456a6"/><rect x="314.9" y="915.10" width="20.6" height="4.6" fill="#2456a6"/></g>
<circle cx="325.2" cy="917.4" r="9.3" fill="none" stroke="#2e3b3a" stroke-width="1.1"/>
<g clip-path="url(#fc2)"><rect x="347.3" y="908.10" width="20.6" height="6.50" fill="#d8323f"/><rect x="347.3" y="914.30" width="20.6" height="6.50" fill="#ffffff"/><rect x="347.3" y="920.50" width="20.6" height="6.50" fill="#2a4c9b"/></g>
<circle cx="357.6" cy="917.4" r="9.3" fill="none" stroke="#2e3b3a" stroke-width="1.1"/>
<g clip-path="url(#fc3)"><rect x="354.3" y="908.10" width="20.6" height="6.50" fill="#f2c73c"/><rect x="354.3" y="914.30" width="20.6" height="6.50" fill="#5aa54a"/><rect x="354.3" y="920.50" width="20.6" height="6.50" fill="#d8323f"/></g>
<circle cx="364.6" cy="917.4" r="9.3" fill="none" stroke="#2e3b3a" stroke-width="1.1"/>
<g clip-path="url(#fc4)"><rect x="371.7" y="907.1" width="20.6" height="20.6" fill="#2a57a8"/><rect x="377.20" y="907.1" width="4.8" height="20.6" fill="#ffffff"/><rect x="371.7" y="915.00" width="20.6" height="4.8" fill="#ffffff"/><rect x="378.50" y="907.1" width="2.2" height="20.6" fill="#dc2f45"/><rect x="371.7" y="916.30" width="20.6" height="2.2" fill="#dc2f45"/></g>
<circle cx="382.0" cy="917.4" r="9.3" fill="none" stroke="#2e3b3a" stroke-width="1.1"/>
<g clip-path="url(#fc5)"><rect x="398.3" y="907.1" width="20.6" height="20.6" fill="#dc2f45"/><rect x="404.80" y="907.1" width="3.2" height="20.6" fill="#ffffff"/><rect x="398.3" y="915.80" width="20.6" height="3.2" fill="#ffffff"/></g>
<circle cx="408.6" cy="917.4" r="9.3" fill="none" stroke="#2e3b3a" stroke-width="1.1"/>
<g clip-path="url(#fc6)"><rect x="414.4" y="908.10" width="20.6" height="6.50" fill="#3f7fd0"/><rect x="414.4" y="914.30" width="20.6" height="6.50" fill="#1c1c1c"/><rect x="414.4" y="920.50" width="20.6" height="6.50" fill="#ffffff"/></g>
<circle cx="424.7" cy="917.4" r="9.3" fill="none" stroke="#2e3b3a" stroke-width="1.1"/>
<g clip-path="url(#fc7)"><rect x="428.59999999999997" y="907.1" width="20.6" height="20.6" fill="#2f5aa8"/><path d="M427.59999999999997 909.264 L450.2 925.536 M427.59999999999997 925.536 L450.2 909.264" stroke="#fff" stroke-width="3.91"/><path d="M427.59999999999997 909.264 L450.2 925.536 M427.59999999999997 925.536 L450.2 909.264" stroke="#e4344a" stroke-width="1.40"/><path d="M438.9 906.1 L438.9 928.6999999999999 M427.59999999999997 917.4 L450.2 917.4" stroke="#fff" stroke-width="5.77"/><path d="M438.9 906.1 L438.9 928.6999999999999 M427.59999999999997 917.4 L450.2 917.4" stroke="#e4344a" stroke-width="3.35"/></g>
<circle cx="438.9" cy="917.4" r="9.3" fill="none" stroke="#2e3b3a" stroke-width="1.1"/>
<g clip-path="url(#fc8)"><rect x="576.40" y="907.1" width="6.50" height="20.6" fill="#3fa45f"/><rect x="582.60" y="907.1" width="6.50" height="20.6" fill="#ffffff"/><rect x="588.80" y="907.1" width="6.50" height="20.6" fill="#f08a3a"/></g>
<circle cx="585.7" cy="917.4" r="9.3" fill="none" stroke="#2e3b3a" stroke-width="1.1"/>
<circle cx="609.5" cy="917.4" r="9.3" fill="#e0303f"/>
<path d="M609.5 912.4 L609.5 922.4 M604.5 917.4 L614.5 917.4" stroke="#fff" stroke-width="3.2"/>
<circle cx="609.5" cy="917.4" r="9.3" fill="none" stroke="#2e3b3a" stroke-width="1.1"/>
<text x="223.1" y="943.2" font-size="11.6" font-weight="bold" fill="#1f1f1f" textLength="84.6" lengthAdjust="spacingAndGlyphs">LUXEMBOURG</text>
<text x="260.1" y="990.8" font-size="11.6" font-weight="bold" fill="#1f1f1f" textLength="48.1" lengthAdjust="spacingAndGlyphs">FINLAND</text>
<text x="338.6" y="943.1" font-size="11.6" font-weight="bold" fill="#1f1f1f" textLength="23.3" lengthAdjust="spacingAndGlyphs">NLD</text>
<text x="330.6" y="966.9" font-size="11.6" font-weight="bold" fill="#1f1f1f" textLength="21.0" lengthAdjust="spacingAndGlyphs">LTU</text>
<text x="356.6" y="990.8" font-size="11.6" font-weight="bold" fill="#1f1f1f" textLength="47.5" lengthAdjust="spacingAndGlyphs">ICELAND</text>
<text x="425.4" y="990.8" font-size="11.6" font-weight="bold" fill="#1f1f1f" textLength="59.9" lengthAdjust="spacingAndGlyphs">DENMARK</text>
<text x="430.8" y="943.1" font-size="11.6" font-weight="bold" fill="#1f1f1f" textLength="15.0" lengthAdjust="spacingAndGlyphs">UK</text>
<text x="439.3" y="966.9" font-size="11.6" font-weight="bold" fill="#1f1f1f" textLength="53.6" lengthAdjust="spacingAndGlyphs">ESTONIA</text>
<text x="543.6" y="943.2" font-size="11.6" font-weight="bold" fill="#1f1f1f" textLength="52.2" lengthAdjust="spacingAndGlyphs">IRELAND</text>
<text x="625.2" y="943.2" font-size="11.6" font-weight="bold" fill="#1f1f1f" textLength="87.3" lengthAdjust="spacingAndGlyphs">SWITZERLAND</text>
<g fill="none" stroke="#2b3b38" stroke-width="2"><ellipse cx="739.5" cy="981.9" rx="9.4" ry="9.2"/><ellipse cx="755.6" cy="981.9" rx="9.4" ry="9.2"/></g>
<path d="M734.5 973.4 L736.8 969.9 L740.5 967.4 L744.4 967.7 L747.7 969.4 L751.0 967.7 L754.3 967.4 L758.3 969.9 L760.9 973.4 L756.3 972.9 L752.3 973.2 L748.0 977.4 L743.8 973.2 L739.1 972.9Z" fill="#2b3b38" stroke="#2b3b38" stroke-width="1" stroke-linejoin="round"/>
<path d="M737.9 985.0 L739.1 981.8 L741.8 979.6 L748.4 978.8 L753.0 979.3 L756.3 981.8 L758.5 984.4 L759.1 987.0 L756.9 989.3 L753.0 990.6 L748.4 988.8 L743.8 991.0 L739.5 990.0Z" fill="#2b3b38" stroke="#2b3b38" stroke-width="1" stroke-linejoin="round"/>
</g>
</svg></body></html>
